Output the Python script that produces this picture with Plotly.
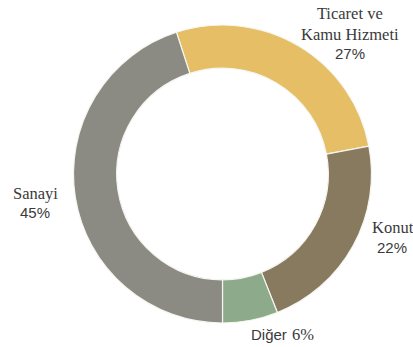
import plotly.graph_objects as go

categories = ["Ticaret ve Kamu Hizmeti", "Konut", "Diğer", "Sanayi"]
values = [27, 22, 6, 45]
colors = ["#E5BE65", "#887A5E", "#8DAA8A", "#8B8A83"]

# label pieces: (text, x, y, family)
SERIF = "Liberation Serif"
SANS = "Liberation Sans"
label_parts = [
    ("Ticaret ve<br>Kamu Hizmeti", 0.926, 1.004, SERIF, 16.5),
    ("27%", 0.926, 0.903, SANS, 15),
    ("Konut", 1.070, 0.319, SERIF, 16.5),
    ("22%", 1.067, 0.255, SANS, 15),
    ("Diğer", 0.656, -0.040, SANS, 15),
    ("6%", 0.768, -0.040, SERIF, 16.5),
    ("Sanayi", -0.127, 0.436, SERIF, 16.5),
    ("45%", -0.127, 0.372, SANS, 15),
]

fig = go.Figure(go.Pie(
    labels=categories,
    values=values,
    sort=False,
    direction="clockwise",
    rotation=-18,
    hole=0.71,
    marker=dict(colors=colors, line=dict(color="#F6F6F0", width=1.2)),
    textinfo="none",
    hoverinfo="label+percent",
    showlegend=False,
))

for txt, x, y, fam, sz in label_parts:
    fig.add_annotation(
        text=txt, x=x, y=y, xref="paper", yref="paper",
        xanchor="center", yanchor="middle",
        showarrow=False, align="center",
        font=dict(family=fam, size=sz, color="#3A3A3A"),
    )

fig.update_layout(
    width=413, height=347,
    margin=dict(l=73, r=41, t=25, b=24),
    paper_bgcolor="white", plot_bgcolor="white",
)

fig.write_html("out.html")
